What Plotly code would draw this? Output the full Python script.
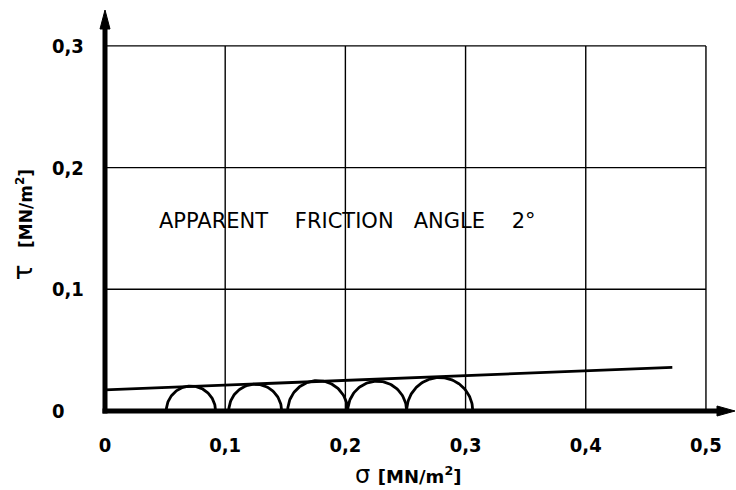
import numpy as np
import plotly.graph_objects as go

# ---- data ----
x_ticks = [0, 0.1, 0.2, 0.3, 0.4, 0.5]
x_ticktext = ["0", "0,1", "0,2", "0,3", "0,4", "0,5"]
y_ticks = [0, 0.1, 0.2, 0.3]
y_ticktext = ["0", "0,1", "0,2", "0,3"]

# Mohr circles: minor and major principal stresses [MN/m2]
sigma3 = [0.051, 0.103, 0.152, 0.202, 0.251]
sigma1 = [0.092, 0.147, 0.202, 0.251, 0.306]

# failure envelope end points
env_sigma = [0.0, 0.472]
env_tau = [0.0173, 0.0359]

NB = "\u00a0"
label_words = ["APPARENT", "FRICTION", "ANGLE", "2°"]
label_gaps = [4, 3, 4]

FONT = "DejaVu Sans Condensed, DejaVu Sans, sans-serif"
X_MAX = 0.525
Y_MAX = 0.3295

ML, MR, MT, MB = 105, 0, 10, 79
W = 736 - ML - MR
H = 490 - MT - MB

fig = go.Figure()

shapes = []
# grid lines
for xv in x_ticks[1:]:
    shapes.append(dict(type="line", xref="x", yref="y", x0=xv, x1=xv, y0=0, y1=y_ticks[-1],
                       line=dict(color="black", width=1.4), layer="below"))
for yv in y_ticks[1:]:
    shapes.append(dict(type="line", xref="x", yref="y", x0=0, x1=x_ticks[-1], y0=yv, y1=yv,
                       line=dict(color="black", width=1.4), layer="below"))

# axis lines (paper coordinates, so they are not clipped)
px, py = 1.0 / W, 1.0 / H
shapes.append(dict(type="line", xref="paper", yref="paper", x0=0, x1=0,
                   y0=-2.5 * py, y1=1 - 16 * py, line=dict(color="black", width=5)))
shapes.append(dict(type="line", xref="paper", yref="paper", x0=-2.5 * px, x1=1 - 16 * px,
                   y0=0, y1=0, line=dict(color="black", width=5)))
# arrow heads
shapes.append(dict(type="path", xref="paper", yref="paper",
                   path=f"M {-5*px} {1-19*py} L 0 1 L {5*px} {1-19*py} Z",
                   fillcolor="black", line=dict(color="black", width=1)))
shapes.append(dict(type="path", xref="paper", yref="paper",
                   path=f"M {1-19*px} {-5*py} L {1-1*px} 0 L {1-19*px} {5*py} Z",
                   fillcolor="black", line=dict(color="black", width=1)))

# Mohr semicircles
for s3, s1 in zip(sigma3, sigma1):
    c = (s1 + s3) / 2
    r = (s1 - s3) / 2
    t = np.linspace(0, np.pi, 80)
    fig.add_trace(go.Scatter(x=c + r * np.cos(t), y=r * np.sin(t), mode="lines",
                             line=dict(color="black", width=2.8), hoverinfo="skip",
                             showlegend=False))

# envelope
fig.add_trace(go.Scatter(x=env_sigma, y=env_tau, mode="lines",
                         line=dict(color="black", width=2.8), showlegend=False))

annotations = []
# y tick labels (left aligned)
for yv, tt in zip(y_ticks, y_ticktext):
    annotations.append(dict(x=-0.087, y=yv, xref="paper", yref="y", text=tt, showarrow=False,
                            xanchor="left", yanchor="middle",
                            font=dict(family=FONT, size=20, color="black", weight="bold")))

# axis titles
annotations.append(dict(x=-0.131, y=0.153, xref="paper", yref="y", textangle=-90,
                        text="τ" + NB * 2 + "<span style='font-size:17px;font-weight:bold'>[MN/m<sup>2</sup>]</span>",
                        showarrow=False, xanchor="center", yanchor="middle",
                        font=dict(family="DejaVu Sans, sans-serif", size=26, color="black")))
annotations.append(dict(x=0.48, y=-0.16, xref="paper", yref="paper",
                        text="σ" + NB + "<span style='font-size:18px;font-weight:bold'>[MN/m<sup>2</sup>]</span>",
                        showarrow=False, xanchor="center", yanchor="middle",
                        font=dict(family="DejaVu Sans, sans-serif", size=24, color="black")))

# label inside the plot
label_text = label_words[0]
for g, w in zip(label_gaps, label_words[1:]):
    label_text += NB * g + w
annotations.append(dict(x=0.0433, y=0.156, xref="x", yref="y", text=label_text, showarrow=False,
                        xanchor="left", yanchor="middle",
                        font=dict(family="DejaVu Sans, sans-serif", size=21, color="black")))

fig.update_layout(
    width=736, height=490,
    margin=dict(l=ML, r=MR, t=MT, b=MB),
    paper_bgcolor="white", plot_bgcolor="white",
    shapes=shapes, annotations=annotations, showlegend=False,
    xaxis=dict(range=[0, X_MAX], showgrid=False, zeroline=False, showline=False,
               tickmode="array", tickvals=x_ticks, ticktext=x_ticktext, ticks="",
               ticklabelstandoff=20,
               tickfont=dict(family=FONT, size=20, color="black", weight="bold"),
               fixedrange=True),
    yaxis=dict(range=[0, Y_MAX], showgrid=False, zeroline=False, showline=False,
               showticklabels=False, ticks="", fixedrange=True),
)

fig.write_html("out.html", config={"displayModeBar": False},
               post_script="document.body.style.margin='0';")
